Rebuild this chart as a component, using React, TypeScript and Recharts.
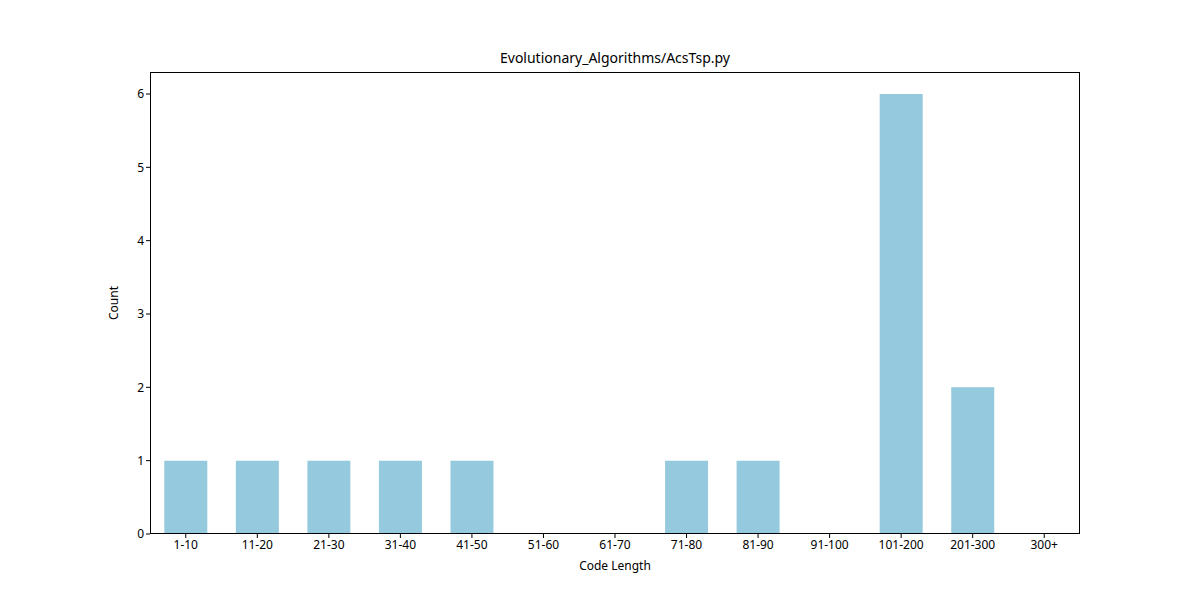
import { BarChart, Bar, XAxis, YAxis, Label } from "recharts";

const categories = ["1-10", "11-20", "21-30", "31-40", "41-50", "51-60", "61-70", "71-80", "81-90", "91-100", "101-200", "201-300", "300+"];
const counts = [1, 1, 1, 1, 1, 0, 0, 1, 1, 0, 6, 2, 0];
const yTicks = [0, 1, 2, 3, 4, 5, 6];

const data = categories.map((range, i) => ({ range, count: counts[i] }));

const font = "'Noto Sans', 'DejaVu Sans', sans-serif";

export default function App() {
  return (
    <div style={{ position: "relative", width: 1200, height: 600, margin: -8, background: "#fff", fontFamily: font }}>
      <div style={{ position: "absolute", top: 48, left: 0, width: 1230, textAlign: "center", fontSize: 14, color: "#000" }}>
        Evolutionary_Algorithms/AcsTsp.py
      </div>
      <BarChart
        width={1200}
        height={600}
        data={data}
        margin={{ top: 72, right: 120, bottom: 26, left: 100 }}
        barCategoryGap="20%"
      >
        <XAxis
          dataKey="range"
          height={40}
          axisLine={false}
          tickSize={4}
          tickLine={{ stroke: "#000" }}
          tick={{ fill: "#000", fontSize: 12, fontFamily: font }}
          interval={0}
        >
          <Label value="Code Length" position="insideBottom" offset={4} style={{ fill: "#000", fontSize: 12, fontFamily: font }} />
        </XAxis>
        <YAxis
          width={50}
          domain={[0, 6.3]}
          ticks={yTicks}
          axisLine={false}
          tickSize={4}
          tickLine={{ stroke: "#000" }}
          tick={{ fill: "#000", fontSize: 12, fontFamily: font }}
        >
          <Label value="Count" angle={-90} position="insideLeft" offset={14} style={{ fill: "#000", fontSize: 12, fontFamily: font, textAnchor: "middle" }} />
        </YAxis>
        <Bar dataKey="count" fill="#95c9dd" isAnimationActive={false} />
      </BarChart>
      <div style={{ position: "absolute", left: 150, top: 72, width: 930, height: 462, border: "1px solid #000", boxSizing: "border-box", pointerEvents: "none" }} />
    </div>
  );
}
